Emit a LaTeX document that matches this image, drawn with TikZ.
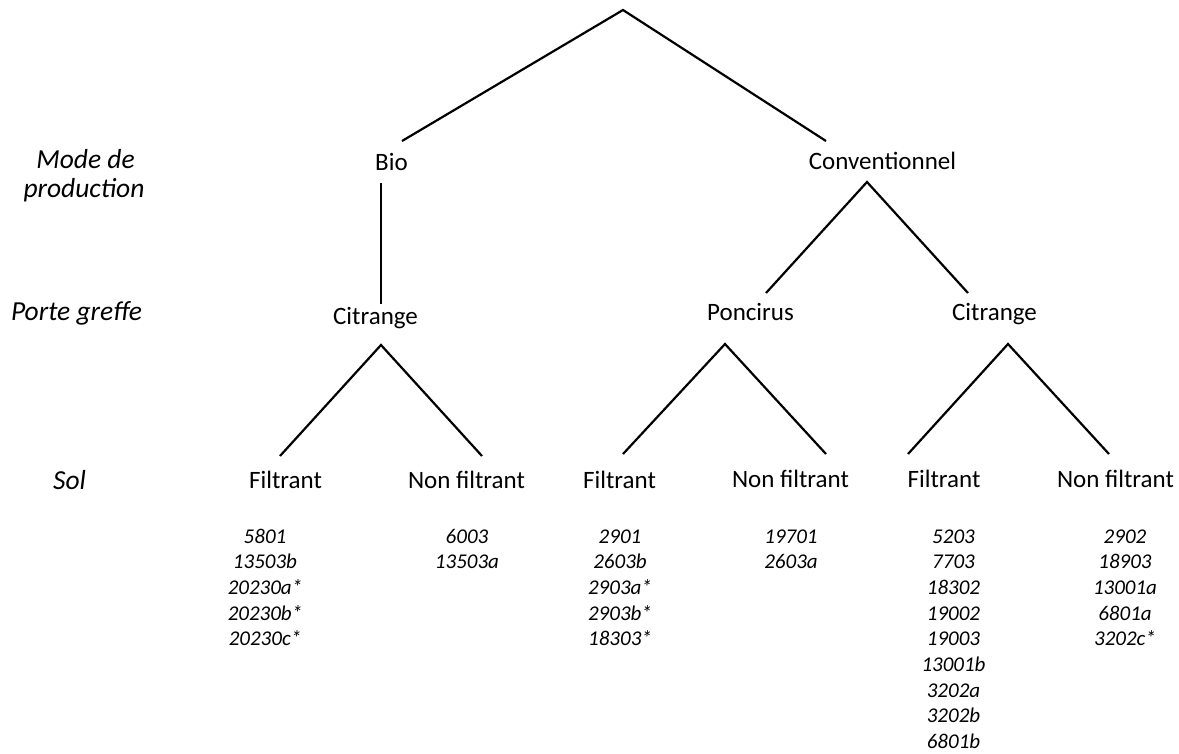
\documentclass[tikz,border=0pt]{standalone}
\usepackage{fontspec}
\setmainfont{Carlito}
\begin{document}
\begin{tikzpicture}[x=1pt,y=-1pt,
  lvl/.style={anchor=base,inner sep=0pt,font=\fontsize{25}{30}\selectfont},
  lab/.style={anchor=base,inner sep=0pt,font=\fontsize{27.5}{29}\selectfont\itshape},
  num/.style={anchor=base,inner sep=0pt,font=\fontsize{21}{25.7}\selectfont\itshape},
  edge/.style={line width=2.2pt,line cap=butt}]
\useasboundingbox (0,0) rectangle (1179,753);
% row labels
\node[lab] (lmode) at (85.5,168) {Mode de};
\node[lab] (lprod) at (84,197) {production};
\node[lab] (lpg) at (76.5,320) {Porte greffe};
\node[lab] (lsol) at (69.5,489) {Sol};
% level nodes
\node[lvl] (bio) at (391.5,170) {Bio};
\node[lvl] (conv) at (882.5,169) {Conventionnel};
\node[lvl] (citL) at (375.5,324) {Citrange};
\node[lvl] (ponc) at (750.5,320) {Poncirus};
\node[lvl] (citR) at (994.5,320) {Citrange};
\node[lvl] (f1) at (285.5,488) {Filtrant};
\node[lvl] (n1) at (466.5,488) {Non filtrant};
\node[lvl] (f2) at (619.5,488) {Filtrant};
\node[lvl] (n2) at (790.5,487) {Non filtrant};
\node[lvl] (f3) at (944,487) {Filtrant};
\node[lvl] (n3) at (1115.5,487) {Non filtrant};
% connector coordinates
\coordinate (root) at (623,10);
\coordinate (bioT) at (402,141);
\coordinate (convT) at (826,141);
\coordinate (bioB) at (381,183);
\coordinate (citLT) at (381,304);
\coordinate (convB) at (867,182);
\coordinate (poncT) at (766,293);
\coordinate (citRT) at (968,293);
\coordinate (citLB) at (381,345);
\coordinate (f1T) at (280,456);
\coordinate (n1T) at (482,456);
\coordinate (poncB) at (725,344);
\coordinate (f2T) at (623,454);
\coordinate (n2T) at (826,454);
\coordinate (citRB) at (1008,344);
\coordinate (f3T) at (908,454);
\coordinate (n3T) at (1109,454);
% connectors
\draw[edge] (bioT) -- (root) -- (convT);
\draw[edge] (bioB) -- (citLT);
\draw[edge] (poncT) -- (convB) -- (citRT);
\draw[edge] (f1T) -- (citLB) -- (n1T);
\draw[edge] (f2T) -- (poncB) -- (n2T);
\draw[edge] (f3T) -- (citRB) -- (n3T);
% sample lists
\foreach \t [count=\i] in {5801,13503b,20230a*,20230b*,20230c*}
  \node[num] (a\i) at (265,{543+25.7*(\i-1)}) {\t};
\foreach \t [count=\i] in {6003,13503a}
  \node[num] (b\i) at (467,{543+25.7*(\i-1)}) {\t};
\foreach \t [count=\i] in {2901,2603b,2903a*,2903b*,18303*}
  \node[num] (c\i) at (620,{543+25.7*(\i-1)}) {\t};
\foreach \t [count=\i] in {19701,2603a}
  \node[num] (d\i) at (791,{543+25.7*(\i-1)}) {\t};
\foreach \t [count=\i] in {5203,7703,18302,19002,19003,13001b,3202a,3202b,6801b}
  \node[num] (e\i) at (953.5,{543+25.7*(\i-1)}) {\t};
\foreach \t [count=\i] in {2902,18903,13001a,6801a,3202c*}
  \node[num] (g\i) at (1125,{543+25.7*(\i-1)}) {\t};
\end{tikzpicture}
\end{document}
